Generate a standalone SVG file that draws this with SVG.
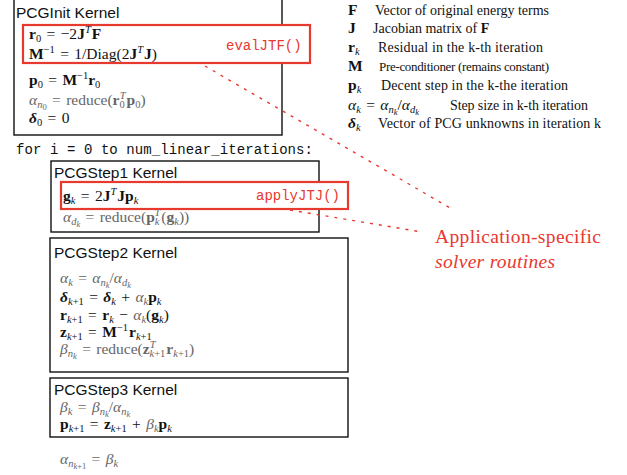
<svg xmlns="http://www.w3.org/2000/svg" width="627" height="475" viewBox="0 0 627 475">
<style>
.bg{fill:#fff}
.box{fill:none;stroke:#111;stroke-width:1.4}
.rbox{fill:#fff;stroke:#e8392e;stroke-width:2.2}
.title{font-family:"Liberation Sans",Arial,sans-serif;font-size:15.5px;fill:#111}
.code{font-family:"Liberation Mono","DejaVu Sans Mono",monospace;font-size:14px;fill:#111}
.rcode{font-family:"Liberation Mono","DejaVu Sans Mono",monospace;font-size:14px;fill:#e8392e}
.m{font-family:"Liberation Serif","DejaVu Serif",serif;font-size:15.5px;fill:#111;word-spacing:1.5px}
.g{fill:#666}
.b{font-weight:bold}
.it{font-style:italic}
.s{font-size:10.5px}
.ss{font-size:8.5px}
.lg{font-family:"Liberation Serif","DejaVu Serif",serif;font-size:14px;fill:#111}
.red{font-family:"Liberation Serif","DejaVu Serif",serif;font-size:19.5px;fill:#e8392e}
.dash{fill:none;stroke:#e8392e;stroke-width:1.4;stroke-dasharray:3 6}
</style>
<rect class="bg" x="0" y="0" width="627" height="475"/>

<g id="init">
<rect class="box" x="14" y="-2" width="268" height="137"/>
<text class="title" x="16" y="18">PCGInit Kernel</text>
<text class="m" x="29" y="85"><tspan class="b">p</tspan><tspan class="s" dy="3">0</tspan><tspan dy="-3"> = </tspan><tspan class="b">M</tspan><tspan class="s" dy="-6">−1</tspan><tspan class="b" dy="6">r</tspan><tspan class="s" dy="3">0</tspan></text>
<text class="m g" x="29" y="105"><tspan class="it">α</tspan><tspan class="s it" dy="3">n</tspan><tspan class="ss" dy="2">0</tspan><tspan dy="-5"> = reduce(</tspan><tspan class="b">r</tspan><tspan class="s" dy="3">0</tspan><tspan class="s it" dx="-5" dy="-9">T</tspan><tspan class="b" dx="1" dy="6">p</tspan><tspan class="s" dy="3">0</tspan><tspan dy="-3">)</tspan></text>
<text class="m" x="29" y="123"><tspan class="b it">δ</tspan><tspan class="s" dy="3">0</tspan><tspan dy="-3"> = 0</tspan></text>
</g>

<g id="evalJTF">
<rect class="rbox" x="23" y="25" width="287" height="38"/>
<text class="m" x="29" y="39"><tspan class="b">r</tspan><tspan class="s" dy="3">0</tspan><tspan dy="-3"> = −2</tspan><tspan class="b">J</tspan><tspan class="s it" dy="-6">T</tspan><tspan class="b" dx="1" dy="6">F</tspan></text>
<text class="m" x="29" y="59"><tspan class="b">M</tspan><tspan class="s" dy="-6">−1</tspan><tspan dy="6"> = 1/Diag(2</tspan><tspan class="b">J</tspan><tspan class="s it" dy="-6">T</tspan><tspan class="b" dx="1" dy="6">J</tspan><tspan>)</tspan></text>
<text class="rcode" x="226" y="50">evalJTF()</text>
</g>

<g id="loop">
<text class="code" x="16" y="154" textLength="297" lengthAdjust="spacing">for i = 0 to num_linear_iterations:</text>
</g>

<g id="step1">
<rect class="box" x="51" y="161" width="268" height="71"/>
<text class="title" x="54" y="178">PCGStep1 Kernel</text>
<text class="m g" x="63" y="222"><tspan class="it">α</tspan><tspan class="s it" dy="3">d</tspan><tspan class="ss it" dy="2">k</tspan><tspan dy="-5"> = reduce(</tspan><tspan class="b">p</tspan><tspan class="s it" dy="3">k</tspan><tspan class="s it" dx="-5" dy="-9">T</tspan><tspan dx="1" dy="6">(</tspan><tspan class="b">g</tspan><tspan class="s it" dy="3">k</tspan><tspan dy="-3">))</tspan></text>
</g>

<g id="applyJTJ">
<rect class="rbox" x="61" y="182" width="287" height="27"/>
<text class="m" x="63" y="201"><tspan class="b">g</tspan><tspan class="s it" dy="3">k</tspan><tspan dy="-3"> = 2</tspan><tspan class="b">J</tspan><tspan class="s it" dy="-6">T</tspan><tspan class="b" dx="1" dy="6">Jp</tspan><tspan class="s it" dy="3">k</tspan></text>
<text class="rcode" x="256" y="200">applyJTJ()</text>
</g>

<g id="step2">
<rect class="box" x="50" y="238" width="298" height="134"/>
<text class="title" x="54" y="258">PCGStep2 Kernel</text>
<text class="m g" x="60" y="283"><tspan class="it">α</tspan><tspan class="s it" dy="3">k</tspan><tspan dy="-3"> = </tspan><tspan class="it">α</tspan><tspan class="s it" dy="3">n</tspan><tspan class="ss it" dy="2">k</tspan><tspan dy="-5">/</tspan><tspan class="it">α</tspan><tspan class="s it" dy="3">d</tspan><tspan class="ss it" dy="2">k</tspan></text>
<text class="m" x="60" y="302"><tspan class="b it">δ</tspan><tspan class="s it" dy="3">k</tspan><tspan class="s">+1</tspan><tspan dy="-3"> = </tspan><tspan class="b it">δ</tspan><tspan class="s it" dy="3">k</tspan><tspan dy="-3"> + </tspan><tspan class="it g">α</tspan><tspan class="s it g" dy="3">k</tspan><tspan class="b" dy="-3">p</tspan><tspan class="s it" dy="3">k</tspan></text>
<text class="m" x="60" y="320"><tspan class="b">r</tspan><tspan class="s it" dy="3">k</tspan><tspan class="s">+1</tspan><tspan dy="-3"> = </tspan><tspan class="b">r</tspan><tspan class="s it" dy="3">k</tspan><tspan dy="-3"> − </tspan><tspan class="it g">α</tspan><tspan class="s it g" dy="3">k</tspan><tspan dy="-3">(</tspan><tspan class="b">g</tspan><tspan class="s it" dy="3">k</tspan><tspan dy="-3">)</tspan></text>
<text class="m" x="60" y="337"><tspan class="b">z</tspan><tspan class="s it" dy="3">k</tspan><tspan class="s">+1</tspan><tspan dy="-3"> = </tspan><tspan class="b">M</tspan><tspan class="s" dy="-6">−1</tspan><tspan class="b" dx="1" dy="6">r</tspan><tspan class="s it" dy="3">k</tspan><tspan class="s">+1</tspan></text>
<text class="m g" x="60" y="354"><tspan class="it">β</tspan><tspan class="s it" dy="3">n</tspan><tspan class="ss it" dy="2">k</tspan><tspan dy="-5"> = reduce(</tspan><tspan class="b">z</tspan><tspan class="s it" dy="-6">T</tspan><tspan class="s it" dx="-6" dy="9">k</tspan><tspan class="s">+1</tspan><tspan class="b" dx="1" dy="-3">r</tspan><tspan class="s it" dy="3">k</tspan><tspan class="s">+1</tspan><tspan dy="-3">)</tspan></text>
</g>

<g id="step3">
<rect class="box" x="50" y="378" width="298" height="59"/>
<text class="title" x="54" y="395">PCGStep3 Kernel</text>
<text class="m g" x="60" y="412"><tspan class="it">β</tspan><tspan class="s it" dy="3">k</tspan><tspan dy="-3"> = </tspan><tspan class="it">β</tspan><tspan class="s it" dy="3">n</tspan><tspan class="ss it" dy="2">k</tspan><tspan dy="-5">/</tspan><tspan class="it">α</tspan><tspan class="s it" dy="3">n</tspan><tspan class="ss it" dy="2">k</tspan></text>
<text class="m" x="60" y="429"><tspan class="b">p</tspan><tspan class="s it" dy="3">k</tspan><tspan class="s">+1</tspan><tspan dy="-3"> = </tspan><tspan class="b">z</tspan><tspan class="s it" dy="3">k</tspan><tspan class="s">+1</tspan><tspan dy="-3"> + </tspan><tspan class="it g">β</tspan><tspan class="s it g" dy="3">k</tspan><tspan class="b" dy="-3">p</tspan><tspan class="s it" dy="3">k</tspan></text>
</g>

<g id="update">
<text class="m g" x="60" y="464"><tspan class="it">α</tspan><tspan class="s it" dy="3">n</tspan><tspan class="ss it" dy="2">k</tspan><tspan class="ss">+1</tspan><tspan dy="-5"> = </tspan><tspan class="it">β</tspan><tspan class="s it" dy="3">k</tspan></text>
</g>

<g id="legend">
<text class="m b" x="348" y="15">F</text>
<text class="lg" x="375" y="15" textLength="174" lengthAdjust="spacing">Vector of original energy terms</text>
<text class="m b" x="348" y="33">J</text>
<text class="lg" x="373" y="33">Jacobian matrix of <tspan class="b">F</tspan></text>
<text class="m" x="348" y="52"><tspan class="b">r</tspan><tspan class="s it" dy="3">k</tspan></text>
<text class="lg" x="378" y="52" textLength="165" lengthAdjust="spacing">Residual in the k-th iteration</text>
<text class="m b" x="348" y="71">M</text>
<text class="lg" x="379" y="71" style="font-size:13px" textLength="170" lengthAdjust="spacing">Pre-conditioner (remains constant)</text>
<text class="m" x="348" y="90"><tspan class="b">p</tspan><tspan class="s it" dy="3">k</tspan></text>
<text class="lg" x="381" y="90" textLength="187" lengthAdjust="spacing">Decent step in the k-the iteration</text>
<text class="m" x="348" y="110"><tspan class="it">α</tspan><tspan class="s it" dy="3">k</tspan><tspan dy="-3"> = </tspan><tspan class="it">α</tspan><tspan class="s it" dy="3">n</tspan><tspan class="ss it" dy="2">k</tspan><tspan dy="-5">/</tspan><tspan class="it">α</tspan><tspan class="s it" dy="3">d</tspan><tspan class="ss it" dy="2">k</tspan></text>
<text class="lg" x="450" y="110" textLength="138" lengthAdjust="spacing">Step size in k-th iteration</text>
<text class="m" x="348" y="128"><tspan class="b it">δ</tspan><tspan class="s it" dy="3">k</tspan></text>
<text class="lg" x="378" y="128" textLength="223" lengthAdjust="spacing">Vector of PCG unknowns in iteration k</text>
</g>

<g id="note">
<text class="red" x="435" y="243" textLength="166" lengthAdjust="spacing">Application-specific</text>
<text class="red it" x="435" y="268" textLength="120" lengthAdjust="spacing">solver routines</text>
</g>

<g id="connectors">
<line class="dash" x1="205" y1="66" x2="452" y2="209"/>
<line class="dash" x1="290" y1="210" x2="422" y2="232"/>
</g>
</svg>
